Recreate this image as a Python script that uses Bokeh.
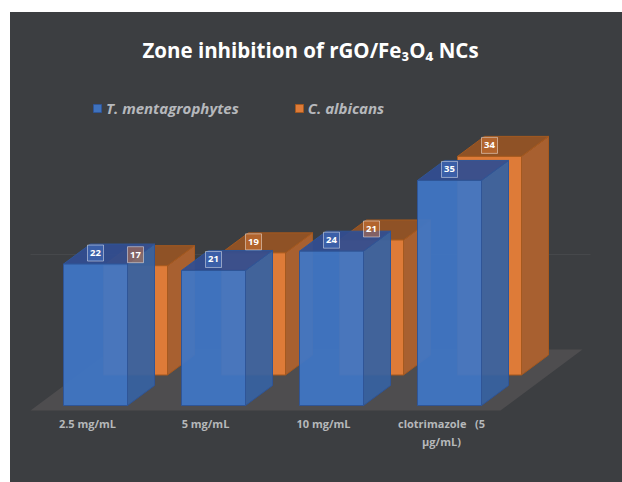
from bokeh.core.properties import value
from bokeh.embed import file_html
from bokeh.models import ColumnDataSource, FixedTicker, Legend, LegendItem, Range1d
from bokeh.plotting import figure
from bokeh.resources import INLINE

title_text = "Zone inhibition of rGO/Fe₃O₄ NCs"
categories = ["2.5 mg/mL", "5 mg/mL", "10 mg/mL", "clotrimazole \u00a0\u00a0(5\nµg/mL)"]
t_mentagrophytes = [22, 21, 24, 35]
c_albicans = [17, 19, 21, 34]

# scale of the drawing: pixels per category / per unit of value
PX_X, PX_Y = 118.0, 6.43
PANEL = "#3c3e41"
dx = lambda px: px / PX_X
dy = lambda px: px / PX_Y

BAR_W = dx(64)
DEPTH_X, DEPTH_Y = dx(27), dy(20)
BLUE_SHIFT = dx(-24)
ORANGE_SHIFT, ORANGE_BASE = dx(16), dy(30.5)

p = figure(width=606, height=466, toolbar_location=None, output_backend="svg",
           x_range=Range1d(dx(10 - 87), dx(616 - 87)),
           y_range=Range1d(dy(405 - 412), dy(405 - 12)),
           y_axis_location=None, min_border=0,
           min_border_left=0, min_border_right=0, min_border_top=0, min_border_bottom=0,
           background_fill_alpha=0, border_fill_alpha=0, outline_line_color=None)
p.grid.visible = False
p.styles = {"position": "relative", "left": "10px", "top": "12px",
            "background-color": PANEL,
            "box-shadow": f"8px 0 0 0 {PANEL}, 0 8px 0 0 {PANEL}, 8px 8px 0 0 {PANEL}"}

ax = p.xaxis[0]
ax.ticker = FixedTicker(ticks=list(range(len(categories))))
ax.major_label_overrides = {i: c for i, c in enumerate(categories)}
ax.axis_line_color = None
ax.major_tick_line_color = None
ax.minor_tick_line_color = None
ax.major_label_text_color = "#b6b8ba"
ax.major_label_text_font = "Open Sans"
ax.major_label_text_font_style = "bold"
ax.major_label_text_font_size = "11px"
ax.major_label_standoff = -3
ax.major_label_orientation = "horizontal"
p.min_border_bottom = 66

# floor and faint back gridline
f_front, f_back = dy(-5), dy(56)
f_left, f_right, f_dx = dx(30 - 87), dx(500 - 87), dx(82)
p.patch([f_left, f_right, f_right + f_dx, f_left + f_dx],
        [f_front, f_front, f_back, f_back], color="#4e4d4f", line_width=0)
p.segment(f_left, dy(151), dx(590 - 87), dy(151), line_color="#46484b", line_width=1)


def faces(values, shift, base):
    fr, to, si = ([], []), ([], []), ([], [])
    for i, v in enumerate(values):
        x0, x1, y0, y1 = i + shift, i + shift + BAR_W, base, base + v
        fr[0].append([x0, x1, x1, x0]); fr[1].append([y0, y0, y1, y1])
        to[0].append([x0, x1, x1 + DEPTH_X, x0 + DEPTH_X])
        to[1].append([y1, y1, y1 + DEPTH_Y, y1 + DEPTH_Y])
        si[0].append([x1, x1 + DEPTH_X, x1 + DEPTH_X, x1])
        si[1].append([y0, y0 + DEPTH_Y, y1 + DEPTH_Y, y1])
    return fr, to, si


def bar3d(values, shift, base, colors, line, alpha):
    fr, to, si = faces(values, shift, base)
    out = None
    for shape, col in zip((si, to, fr), colors):
        out = p.patches(shape[0], shape[1], fill_color=col, fill_alpha=alpha,
                        line_color=line, line_width=1)
    return out


r_orange = bar3d(c_albicans, ORANGE_SHIFT, ORANGE_BASE,
                 ("#a86030", "#8f5226", "#de7b38"), "#a5591f", 1.0)
r_blue = bar3d(t_mentagrophytes, BLUE_SHIFT, 0,
               ("#3762a0", "#324e90", "#4076c5"), "#2f5597", 0.94)


def labels(values, shift, base, fill, alpha):
    src = ColumnDataSource(dict(
        x=[i + shift + BAR_W / 2 for i in range(len(values))],
        y=[base + v + dy(11) for v in values],
        t=[str(v) for v in values]))
    p.rect("x", "y", width=16, height=16, width_units="screen", height_units="screen",
           source=src, fill_color=fill, fill_alpha=alpha,
           line_color="#ffffff", line_alpha=0.45, line_width=1)
    p.text("x", "y", text="t", source=src, text_color="#ffffff", text_font=value("Open Sans"),
           text_font_style="bold", text_font_size="9.5px",
           text_align="center", text_baseline="middle")


labels(c_albicans, ORANGE_SHIFT, ORANGE_BASE, "#de7b38", 0.45)
labels(t_mentagrophytes, BLUE_SHIFT, 0, "#4472c4", 0.5)

p.text([dx(310 - 87)], [dy(405 - 49)], text=[title_text], text_color="#ffffff",
       text_font=value("Open Sans"), text_font_style="bold", text_font_size="20.5px",
       text_align="center", text_baseline="middle")

legend = Legend(items=[LegendItem(label="T. mentagrophytes", renderers=[r_blue]),
                       LegendItem(label="C. albicans", renderers=[r_orange])],
                orientation="horizontal", location=(82, 294), background_fill_alpha=0,
                border_line_color=None, label_text_color="#b6b8bc",
                label_text_font="Open Sans", label_text_font_style="bold italic",
                label_text_font_size="15px", glyph_width=10, glyph_height=10,
                spacing=55, label_standoff=4, margin=0, padding=4)
p.add_layout(legend)

open("out.html", "w").write(file_html(p, INLINE))
